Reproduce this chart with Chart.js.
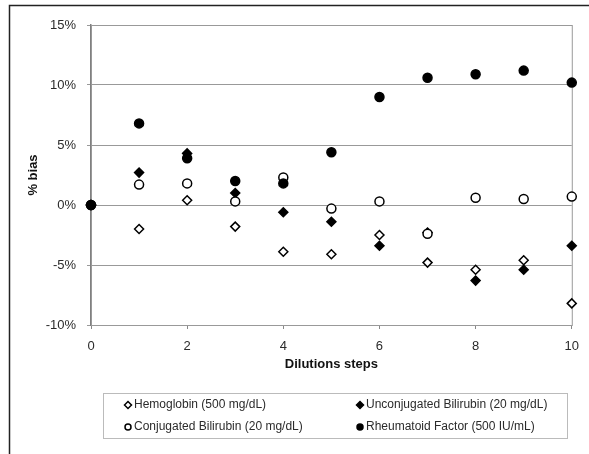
<!DOCTYPE html>
<html>
<head>
<meta charset="utf-8">
<script src="https://cdn.jsdelivr.net/npm/chart.js@4/dist/chart.umd.min.js"></script>
<style>
  html, body { margin: 0; padding: 0; background: #fff; }
  canvas { display: block; }
</style>
</head>
<body>
<canvas id="bias" width="589" height="454"></canvas>
<script>
// Dilution series and % bias per interferent
const steps = [0, 1, 2, 3, 4, 5, 6, 7, 8, 9, 10];
const hemoglobin = [0, -2.0, 0.4, -1.8, -3.9, -4.1, -2.5, -4.8, -5.4, -4.6, -8.2];
const unconjugated = [0, 2.7, 4.3, 1.0, -0.6, -1.4, -3.4, -2.3, -6.3, -5.4, -3.4];
const conjugated = [0, 1.7, 1.8, 0.3, 2.3, -0.3, 0.3, -2.4, 0.6, 0.5, 0.7];
const rheumatoid = [0, 6.8, 3.9, 2.0, 1.8, 4.4, 9.0, 10.6, 10.9, 11.2, 10.2];
const yTicks = [-10, -5, 0, 5, 10, 15];

const FONT = 'Liberation Sans, Arial, sans-serif';
const TEXT = '#2b2b2b';

function pts(values) {
  return steps.map((s, i) => ({ x: s, y: values[i] }));
}

function series(label, values, style, filled, order) {
  return {
    label: label,
    data: pts(values),
    pointStyle: style,
    pointRadius: 4.5,
    pointBorderWidth: 1.5,
    pointBorderColor: '#000',
    pointBackgroundColor: filled ? '#000' : '#fff',
    showLine: false,
    clip: false,
    order: order
  };
}

// frame around the whole figure (left and top edges only)
const outerFrame = {
  id: 'outerFrame',
  afterDraw(chart) {
    const ctx = chart.ctx;
    ctx.save();
    ctx.strokeStyle = '#222';
    ctx.lineWidth = 1.5;
    ctx.beginPath();
    ctx.moveTo(9.5, 454);
    ctx.lineTo(9.5, 5.5);
    ctx.lineTo(589, 5.5);
    ctx.stroke();
    ctx.restore();
  }
};

// grey box around the plotting area
const plotBox = {
  id: 'plotBox',
  beforeDatasetsDraw(chart) {
    const { ctx, chartArea: a } = chart;
    ctx.save();
    ctx.strokeStyle = '#999';
    ctx.lineWidth = 1;
    ctx.strokeRect(a.left + 0.5, a.top + 0.5, a.right - a.left, a.bottom - a.top);
    ctx.restore();
  }
};

// boxed two-column legend under the axis
const boxLegend = {
  id: 'boxLegend',
  afterDraw(chart) {
    const ctx = chart.ctx;
    const box = { x: 103, y: 393, w: 464, h: 45 };
    ctx.save();
    ctx.strokeStyle = '#bbb';
    ctx.lineWidth = 1;
    ctx.strokeRect(box.x + 0.5, box.y + 0.5, box.w, box.h);
    ctx.font = '12px ' + FONT;
    ctx.textBaseline = 'middle';
    const cols = [128, 360];
    const rows = [405, 427];
    chart.data.datasets.forEach((ds, i) => {
      const x = cols[i % 2];
      const y = rows[Math.floor(i / 2)];
      ctx.fillStyle = ds.pointBackgroundColor;
      ctx.strokeStyle = ds.pointBorderColor;
      ctx.lineWidth = 1.5;
      ctx.beginPath();
      if (ds.pointStyle === 'circle') {
        ctx.arc(x, y, 3, 0, Math.PI * 2);
      } else {
        ctx.moveTo(x - 3.5, y);
        ctx.lineTo(x, y - 3.5);
        ctx.lineTo(x + 3.5, y);
        ctx.lineTo(x, y + 3.5);
        ctx.closePath();
      }
      ctx.fill();
      ctx.stroke();
      ctx.fillStyle = TEXT;
      ctx.fillText(ds.label, x + 6, y);
    });
    ctx.restore();
  }
};

new Chart(document.getElementById('bias'), {
  type: 'scatter',
  data: {
    datasets: [
      series('Hemoglobin (500 mg/dL)', hemoglobin, 'rectRot', false, 4),
      series('Unconjugated Bilirubin (20 mg/dL)', unconjugated, 'rectRot', true, 3),
      series('Conjugated Bilirubin (20 mg/dL)', conjugated, 'circle', false, 2),
      series('Rheumatoid Factor (500 IU/mL)', rheumatoid, 'circle', true, 1)
    ]
  },
  options: {
    responsive: false,
    animation: false,
    layout: { padding: { left: 0, right: 10, top: 25, bottom: 82 } },
    scales: {
      x: {
        type: 'linear',
        min: 0,
        max: 10,
        afterFit: (s) => { s.height = 47; },
        ticks: { stepSize: 2, color: TEXT, padding: 10, font: { family: FONT, size: 13 } },
        grid: { drawOnChartArea: false, drawTicks: true, tickLength: 4, color: '#888' },
        border: { display: true, color: '#888', width: 1 },
        title: {
          display: true,
          text: 'Dilutions steps',
          color: '#111',
          padding: { top: 0, bottom: 0 },
          font: { family: FONT, size: 13, weight: 'bold' }
        }
      },
      y: {
        min: -10,
        max: 15,
        afterFit: (s) => { s.width = 91; },
        afterBuildTicks: (s) => { s.ticks = yTicks.map(v => ({ value: v })); },
        ticks: {
          color: TEXT,
          padding: 11,
          font: { family: FONT, size: 13 },
          callback: (v) => v + '%'
        },
        grid: { color: '#999', lineWidth: 1, drawTicks: true, tickLength: 4 },
        border: { display: true, color: '#808080', width: 1.5 },
        title: {
          display: true,
          text: '% bias',
          color: '#111',
          padding: { top: 26, bottom: 0 },
          font: { family: FONT, size: 13, weight: 'bold' }
        }
      }
    },
    plugins: {
      legend: { display: false },
      tooltip: { enabled: false }
    }
  },
  plugins: [plotBox, outerFrame, boxLegend]
});
</script>
</body>
</html>
